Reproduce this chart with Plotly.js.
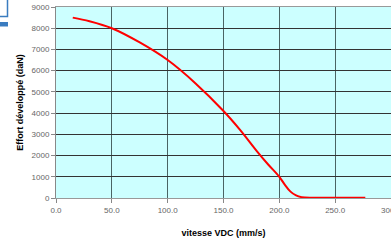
<!DOCTYPE html>
<html>
<head>
<meta charset="utf-8">
<script src="https://cdn.plot.ly/plotly-3.0.1.min.js"></script>
<style>
html,body{margin:0;padding:0;background:#fff;}
#chart{width:391px;height:240px;}
</style>
</head>
<body>
<div id="chart"></div>
<script>
// Data
var vitesse = [15, 30, 50, 75, 100, 125, 150, 165, 180, 190, 200, 205, 210, 215, 220, 230, 250, 277];
var effort  = [8500, 8330, 8000, 7330, 6500, 5400, 4100, 3200, 2200, 1580, 1000, 620, 300, 120, 40, 15, 15, 15];
var xTitle = "vitesse VDC (mm/s)";
var yTitle = "Effort développé (daN)";

var L = 56, W = 335, T = 7, H = 191;
function px(x){ return (x - L) / W; }
function py(y){ return 1 - (y - T) / H; }

var trace = {
  x: vitesse, y: effort, type: 'scatter', mode: 'lines',
  line: {color: '#ff0000', width: 2, shape: 'spline', smoothing: 1},
  hoverinfo: 'none'
};

var tickFont = {family: 'Liberation Sans, Arial, sans-serif', size: 8, color: '#666666'};
var titleFont = {family: 'Liberation Sans, Arial, sans-serif', size: 9, color: '#000000', weight: 'bold'};

var layout = {
  width: 391, height: 240,
  margin: {l: L, r: 0, t: T, b: 240 - T - H, pad: 0},
  paper_bgcolor: '#ffffff',
  plot_bgcolor: '#ccffff',
  showlegend: false,
  xaxis: {
    range: [0, 300], dtick: 50, tick0: 0, tickformat: '.1f',
    showgrid: true, gridcolor: '#4a6464', gridwidth: 1,
    showline: true, linecolor: '#999999', linewidth: 1, mirror: true,
    ticks: 'outside', ticklen: 4, tickcolor: '#888888',
    tickfont: tickFont, zeroline: false, automargin: false,
    ticklabeloverflow: 'allow',
    title: {text: xTitle, font: titleFont, standoff: 16}
  },
  yaxis: {
    range: [0, 9000], dtick: 1000, tick0: 0,
    showgrid: true, gridcolor: '#333333', gridwidth: 1,
    showline: true, linecolor: '#888888', linewidth: 1,
    ticks: 'outside', ticklen: 4, tickcolor: '#888888',
    tickfont: tickFont, zeroline: false, automargin: false,
    title: {text: yTitle, font: titleFont, standoff: 6}
  },
  shapes: [
    {type: 'rect', xref: 'paper', yref: 'paper', x0: px(-2), x1: px(7.5), y0: py(-2), y1: py(16.5),
     line: {color: '#3a7cc0', width: 1.5}, fillcolor: '#ffffff', layer: 'above'},
    {type: 'rect', xref: 'paper', yref: 'paper', x0: px(0), x1: px(8), y0: py(22), y1: py(26.5),
     line: {width: 0}, fillcolor: '#3a7cc0', layer: 'above'}
  ]
};

Plotly.newPlot('chart', [trace], layout, {staticPlot: true, displayModeBar: false});
</script>
</body>
</html>
